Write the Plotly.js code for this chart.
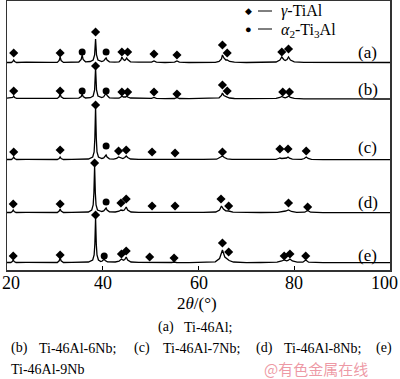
<!DOCTYPE html>
<html>
<head>
<meta charset="utf-8">
<script src="https://cdn.plot.ly/plotly-3.0.1.min.js"></script>
<style>html,body{margin:0;padding:0;background:#fff}#chart{width:400px;height:379px}</style>
</head>
<body>
<div id="chart"></div>
<script>
// ---- data (2θ in degrees, intensity in arbitrary units) ----
const patternLabels = ["(a)", "(b)", "(c)", "(d)", "(e)"];
const alloyNames = ["Ti-46Al", "Ti-46Al-6Nb", "Ti-46Al-7Nb", "Ti-46Al-8Nb", "Ti-46Al-9Nb"];

const A_x = [20,20.9,21.2,21.4,21.6,22.0,24,26.5,29,30.5,30.9,31.1,31.3,31.8,33.5,35.0,35.5,35.7,35.9,36.4,37.4,38.0,38.3,38.5,38.7,39.0,39.8,40.2,40.5,40.7,40.9,41.4,42.5,43.4,43.8,44.0,44.3,44.6,44.8,45.0,45.2,45.8,47.5,50.2,50.7,51.2,53,55.0,55.5,56.0,58,60.5,63.5,64.3,64.8,65.0,65.3,65.7,66.0,66.5,67.5,70,73,76.2,77.0,77.4,77.8,78.1,78.5,78.8,79.2,80.0,82,85,88,91,94,97,100];
const A_y = [0.5,0.5,1.5,3,1.5,0.5,0.8,0.4,0.7,0.6,2.5,6,2.5,0.6,0.8,1.0,3.5,8,3.5,1.2,1.5,3,8,24,8,3,1.5,2.2,4,5,3,1.2,0.8,1.2,3,6,3.5,2.5,3.5,5,3.5,1.2,0.8,0.8,2,0.8,0.5,0.8,2,0.8,0.5,0.8,0.6,1.5,4,8,5,3,3,1.5,0.8,0.5,0.6,1.0,3,6,3.5,2.5,3.5,6,3,1.2,0.6,0.5,0.8,0.5,0.6,0.5,0.5];

const B_x = A_x;
const B_y = [0.8,0.8,1.5,3,1.5,0.6,0.8,0.5,0.7,0.6,2.2,5,2.2,0.6,0.7,0.9,2.5,5,2.5,1.0,1.3,3,9,31,9,3,1.5,2.2,4.5,6,3.5,1.2,0.8,0.8,2,3,2,1.8,2,3,2,1.0,0.6,0.6,1.5,0.6,0.4,0.5,1.5,0.5,0.3,0.5,0.4,1.2,3.5,6,3.5,2,1.8,1,0.5,0.3,0.3,0.6,1.5,2.5,1.5,1.2,1.8,3,1.5,0.6,0.2,0,0.2,0,0.1,0,0];

const C_x = [20,20.9,21.2,21.4,21.6,22.0,24,26.5,29,30.5,30.9,31.1,31.3,31.8,33.5,35.5,37.0,37.9,38.2,38.35,38.5,38.65,38.8,39.1,39.8,40.2,40.5,40.7,40.9,41.4,42.3,42.9,43.3,43.7,44.2,44.6,44.9,45.2,45.8,47.5,49.8,50.3,50.8,53,54.6,55.1,55.6,58,61,63.8,64.6,65.0,65.4,66.0,67.0,70,73,76.2,76.7,77.0,77.4,78.0,78.4,78.7,79.0,79.6,81.5,82.1,82.5,82.9,83.6,86,89,92,95,98,100];
const C_y = [0.5,0.5,1.5,3,1.5,0.5,0.6,0.4,0.6,0.5,1.5,3,1.5,0.5,0.6,0.8,1.0,3,8,22,53,22,8,3,1.5,2,4,5,3,1.2,0.8,1.5,3,2,1.5,2.5,4,2.5,1.0,0.6,0.5,1,0.5,0.4,0.5,1,0.5,0.4,0.6,0.8,2.5,4,2.5,1.2,0.6,0.4,0.5,0.6,1.5,2,1.5,1.5,2,3,1.8,0.8,0.6,1.5,3,1.5,0.6,0.4,0.5,0.4,0.5,0.4,0.4];

const D_x = [20,20.8,21.1,21.3,21.5,21.9,24,26.5,29,30.5,30.9,31.1,31.3,31.8,33.5,35.5,37.0,37.7,38.0,38.15,38.3,38.45,38.6,38.9,39.8,40.2,40.5,40.7,40.9,41.4,42.6,43.4,43.8,44.2,44.5,44.7,44.9,45.2,45.9,47.5,49.8,50.3,50.8,53,54.6,55.1,55.6,58,61,63.6,64.4,64.8,65.2,65.7,66.3,67.2,70,73,76.5,77.5,78.2,78.8,79.4,80.5,82.2,82.8,83.4,86,89,92,95,98,100];
const D_y = [0.5,0.5,1.5,3,1.5,0.5,0.6,0.4,0.6,0.5,2,4,2,0.5,0.6,0.7,1.0,3,8,20,47,20,8,3,1.5,2,4,5,3,1.2,1.0,1.8,3,2.5,3,4,6,3,1.0,0.6,0.5,1,0.5,0.4,0.5,1,0.5,0.4,0.6,1.0,3,7,4,2.2,2,0.8,0.4,0.5,0.6,1.2,2,3,1.5,0.6,0.8,2.5,0.8,0.4,0.5,0.4,0.5,0.4,0.4];

const E_x = [20,20.8,21.1,21.3,21.5,21.9,24,26.5,29,30.5,30.9,31.1,31.3,31.8,33.5,35.5,37.0,37.9,38.2,38.35,38.5,38.65,38.8,39.1,39.6,39.9,40.1,40.3,40.5,41.0,42.6,43.4,43.9,44.3,44.6,44.9,45.2,45.9,47.5,49.3,49.8,50.3,53,54.4,54.9,55.4,58,61,63.5,64.4,65.0,65.5,66.0,66.4,67.3,70,73,76.4,77.4,77.9,78.4,78.7,79.1,79.6,80.6,81.8,82.4,83.0,86,89,92,95,98,100];
const E_y = [0.5,0.5,1.5,3,1.5,0.5,0.6,0.4,0.6,0.5,2.2,5,2.2,0.5,0.6,0.8,1.0,3,8,19,45,19,8,3,1.5,2,3.5,4,2.5,1.2,1.0,1.8,4,2.8,3.5,6,3,1.0,0.6,0.5,1,0.5,0.4,0.5,1,0.5,0.4,0.6,1.2,4.5,13,6,3.5,2.5,1.0,0.4,0.5,0.8,2,3,2.2,2.5,4,2,0.8,0.8,3,0.8,0.4,0.5,0.4,0.5,0.4,0.4];

// phase markers: γ-TiAl (diamond) and α2-Ti3Al (circle), x = 2θ, h = height above baseline
const A_gx = [21.4,31.1,38.5,44.0,45.2,50.7,55.5,65.0,66.0,77.4,78.8];
const A_gh = [10,10,31,11,11,9,8,18,10,11,14];
const A_ax = [35.7,40.7];
const A_ah = [11,11];
const B_gx = [21.4,31.1,38.5,44.0,45.2,50.7,55.5,65.0,66.0,77.6,79.0];
const B_gh = [8,8,33,7,7,7,5,14,8,7,7];
const B_ax = [35.7,40.7];
const B_ah = [8,8];
const C_gx = [21.4,31.1,38.5,43.3,44.9,50.3,55.1,65.0,77.0,78.7,82.5];
const C_gh = [8,10,55,9,10,8,7,8,11,11,9];
const C_ax = [40.7];
const C_ah = [14];
const D_gx = [21.3,31.1,38.3,43.8,44.9,50.3,55.1,64.7,66.3,78.8,82.8];
const D_gh = [9,9,50,10,14,7,7,14,7,10,6];
const D_ax = [40.7];
const D_ah = [11];
const E_gx = [21.3,31.1,38.5,43.9,44.9,49.8,54.9,65.0,66.3,77.9,79.1,82.4];
const E_gh = [7,8,48,9,12,6,5,20,11,7,9,7];
const E_ax = [40.3];
const E_ah = [7];

const xTicks = [20, 40, 60, 80, 100];

// ---- layout / styling (not data) ----
const offsets = [207, 171, 110, 57, 7];
const series = [
  {x: A_x, y: A_y, gx: A_gx, gh: A_gh, ax: A_ax, ah: A_ah},
  {x: B_x, y: B_y, gx: B_gx, gh: B_gh, ax: B_ax, ah: B_ah},
  {x: C_x, y: C_y, gx: C_gx, gh: C_gh, ax: C_ax, ah: C_ah},
  {x: D_x, y: D_y, gx: D_gx, gh: D_gh, ax: D_ax, ah: D_ah},
  {x: E_x, y: E_y, gx: E_gx, gh: E_gh, ax: E_ax, ah: E_ah}
];
const labelY = [218, 181, 123, 68, 15];

const serif = "'Liberation Serif', 'Times New Roman', serif";
const traces = [];
series.forEach((s, i) => {
  const off = offsets[i];
  traces.push({x: s.x, y: s.y.map(v => v + off), mode: "lines", type: "scatter",
    line: {color: "#000", width: 1.3}, hoverinfo: "skip", showlegend: false});
  traces.push({x: s.gx, y: s.gh.map(v => v + off), mode: "markers", type: "scatter",
    marker: {symbol: "diamond", size: 7, color: "#000"}, showlegend: false});
  traces.push({x: s.ax, y: s.ah.map(v => v + off), mode: "markers", type: "scatter",
    marker: {symbol: "circle", size: 7, color: "#000"}, showlegend: false});
});

const L = 7, R = 10, T = 1, B = 109, W = 400, H = 379;
const plotW = W - L - R, plotH = H - T - B;
const PX = px => (px - L) / plotW;
const PY = py => (H - B - py) / plotH;

const annotations = [];
patternLabels.forEach((t, i) => {
  annotations.push({x: 95.4, y: labelY[i], xref: "x", yref: "y", text: t, showarrow: false,
    font: {family: serif, size: 17, color: "#000"}, xanchor: "center", yanchor: "middle"});
});
function txt(px, py, text, size, anchor, color, fam) {
  annotations.push({x: PX(px), y: PY(py), xref: "paper", yref: "paper", text: text, showarrow: false,
    borderpad: 0, xanchor: anchor || "left", yanchor: "middle",
    font: {family: fam || serif, size: size, color: color || "#000"}});
}
// x tick labels (drawn as text so the edge labels are not clipped)
xTicks.forEach(v => {
  annotations.push({x: v, y: PY(283), xref: "x", yref: "paper", text: String(v), showarrow: false,
    xanchor: v === 100 ? "right" : (v === 20 ? "left" : "center"), yanchor: "middle",
    xshift: v === 100 ? 10 : (v === 20 ? -7 : 0),
    font: {family: serif, size: 18, color: "#000"}});
});
// legend
txt(248, 11, "◆", 9, "center");
txt(248, 29, "●", 11, "center");
txt(280, 11, "<i>γ</i>-TiAl", 16);
txt(280, 30, "<i>α</i><sub>2</sub>-Ti<sub>3</sub>Al", 16);
// axis title
txt(197, 303, "2<i>θ</i>/(°)", 17, "center");
// caption
txt(157, 327, patternLabels[0], 14);
txt(183, 327, alloyNames[0] + ";", 14);
txt(10, 348, patternLabels[1], 14);
txt(38, 348, alloyNames[1] + ";", 14);
txt(133, 348, patternLabels[2], 14);
txt(162, 348, alloyNames[2] + ";", 14);
txt(255, 348, patternLabels[3], 14);
txt(283, 348, alloyNames[3] + ";", 14);
txt(375, 348, patternLabels[4], 14);
txt(10, 370, alloyNames[4], 14);
txt(263, 368, "@有色金属在线", 15, "left", "rgba(232,120,135,0.75)", "Noto Sans CJK SC");

const shapes = [
  {type: "line", xref: "paper", yref: "paper", x0: PX(258), x1: PX(272), y0: PY(11), y1: PY(11), line: {color: "#000", width: 1}},
  {type: "line", xref: "paper", yref: "paper", x0: PX(258), x1: PX(272), y0: PY(29), y1: PY(29), line: {color: "#000", width: 1}}
];

const layout = {
  width: W, height: H,
  margin: {l: L, r: R, t: T, b: B, pad: 0},
  paper_bgcolor: "#fff", plot_bgcolor: "#fff",
  showlegend: false,
  xaxis: {range: [20, 100], tickvals: xTicks, showticklabels: false, ticks: "inside", ticklen: 4,
    tickcolor: "#000", showgrid: false, zeroline: false, showline: true, linecolor: "#333", linewidth: 1.5,
    mirror: true},
  yaxis: {range: [0, plotH], showticklabels: false, ticks: "", showgrid: false, zeroline: false,
    showline: true, linecolor: "#333", linewidth: 1.5, mirror: true},
  annotations: annotations,
  shapes: shapes
};

Plotly.newPlot("chart", traces, layout, {staticPlot: true, displayModeBar: false});
</script>
</body>
</html>
